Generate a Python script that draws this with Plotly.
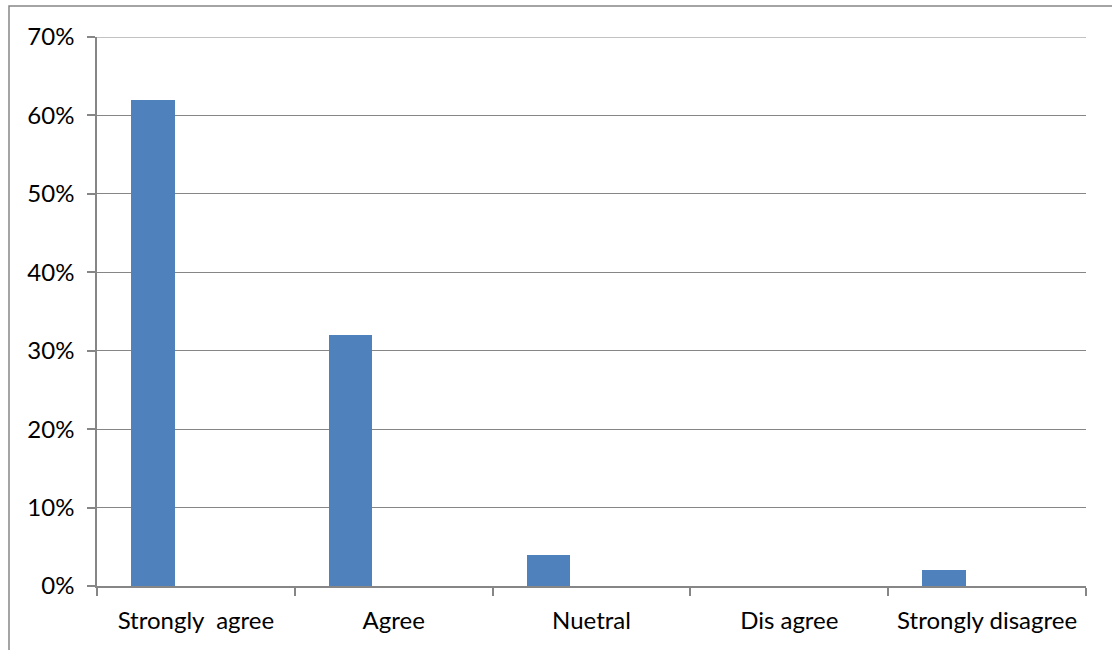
import plotly.graph_objects as go

# Survey response shares (percent)
categories = ["Strongly\u00a0 agree", "Agree", "Nuetral", "Dis agree", "Strongly disagree"]
shares = [62, 32, 4, 0, 2]
tick_values = [0, 10, 20, 30, 40, 50, 60, 70]
tick_labels = ["0%", "10%", "20%", "30%", "40%", "50%", "60%", "70%"]

W, H = 1112, 650
ML, MR, MT, MB = 97, 26, 37, 64
plot_w = W - ML - MR
plot_h = H - MT - MB
GRID = "#868686"

fig = go.Figure()
fig.add_trace(go.Bar(
    x=categories,
    y=shares,
    width=0.22,
    offset=-0.328,
    marker=dict(color="#4F81BD", line=dict(width=0)),
    hoverinfo="skip",
))

font = dict(family="Lato, 'Open Sans', sans-serif", size=24, color="#000000")

fig.update_xaxes(
    type="category",
    categoryorder="array",
    categoryarray=categories,
    tickson="boundaries",
    ticks="outside",
    ticklen=8,
    tickcolor=GRID,
    tickwidth=1.5,
    showline=True,
    linecolor=GRID,
    linewidth=1.5,
    showgrid=False,
    tickfont=font,
    ticklabelstandoff=12,
    zeroline=False,
)
fig.update_yaxes(
    range=[0, 70],
    tickmode="array",
    tickvals=tick_values,
    ticktext=tick_labels,
    ticks="outside",
    ticklen=8,
    tickcolor=GRID,
    tickwidth=1.5,
    showline=True,
    linecolor=GRID,
    linewidth=1.5,
    showgrid=True,
    gridcolor=GRID,
    gridwidth=1.2,
    zeroline=False,
    tickfont=font,
    ticklabelstandoff=8,
)

# Top gridline at the axis maximum
fig.add_shape(type="line", xref="paper", yref="y",
              x0=0, x1=1, y0=tick_values[-1], y1=tick_values[-1],
              line=dict(color=GRID, width=1.2), layer="below")

# Outer chart frame (top and left edges visible)
fx0 = (9 - ML) / plot_w
fx1 = (W + 20 - ML) / plot_w
fy_top = 1 + (MT - 6) / plot_h
fy_bot = -(MB + 20) / plot_h
fig.add_shape(type="rect", xref="paper", yref="paper",
              x0=fx0, x1=fx1, y0=fy_bot, y1=fy_top,
              line=dict(color=GRID, width=1.5), layer="below")

fig.update_layout(
    width=W, height=H,
    margin=dict(l=ML, r=MR, t=MT, b=MB),
    paper_bgcolor="white",
    plot_bgcolor="white",
    showlegend=False,
    bargap=0,
)

fig.write_html("out.html")
